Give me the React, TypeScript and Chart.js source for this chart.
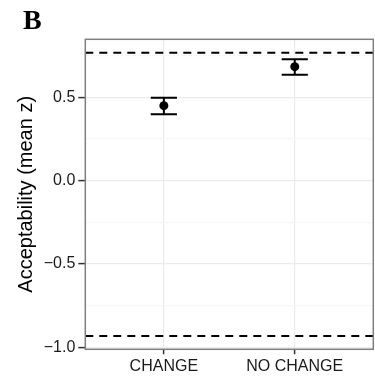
import React, { useEffect, useRef } from "react";
import { Chart, registerables } from "chart.js";

Chart.register(...registerables);

const categories = ["CHANGE", "NO CHANGE"];
const means = [0.45, 0.684];
const lower = [0.398, 0.636];
const upper = [0.498, 0.728];
const referenceLines = [0.768, -0.932];
const yMajorTicks = [-1.0, -0.5, 0.0, 0.5];
const yMinorTicks = [-0.75, -0.25, 0.25, 0.75];
const panelLabel = "B";
const yTitle = "Acceptability (mean z)";

const X_MIN = 0.4;
const X_MAX = 2.6;
const Y_MIN = -1.012;
const Y_MAX = 0.848;
const CAP = 0.1;

const isMinor = (v: number) => yMinorTicks.some((m) => Math.abs(m - v) < 1e-9);

export default function App() {
  const ref = useRef<HTMLCanvasElement | null>(null);

  useEffect(() => {
    if (!ref.current) return;

    const refDatasets = referenceLines.map((r) => ({
      data: [
        { x: X_MIN, y: r },
        { x: X_MAX, y: r },
      ],
      showLine: true,
      borderColor: "#000",
      borderWidth: 2,
      borderDash: [8, 6],
      pointRadius: 0,
      order: 3,
    }));

    const errDatasets: any[] = [];
    categories.forEach((_, i) => {
      const x = i + 1;
      const segs = [
        [
          { x, y: lower[i] },
          { x, y: upper[i] },
        ],
        [
          { x: x - CAP, y: upper[i] },
          { x: x + CAP, y: upper[i] },
        ],
        [
          { x: x - CAP, y: lower[i] },
          { x: x + CAP, y: lower[i] },
        ],
      ];
      segs.forEach((d) =>
        errDatasets.push({
          data: d,
          showLine: true,
          borderColor: "#000",
          borderWidth: 2,
          pointRadius: 0,
          order: 2,
        })
      );
    });

    const pointDataset = {
      data: categories.map((_, i) => ({ x: i + 1, y: means[i] })),
      showLine: false,
      pointRadius: 4.5,
      pointBackgroundColor: "#000",
      pointBorderColor: "#000",
      pointBorderWidth: 0,
      order: 1,
    };

    const frame = {
      id: "frame",
      afterDatasetsDraw(chart: any) {
        const { ctx, chartArea } = chart;
        ctx.save();
        ctx.strokeStyle = "#7f7f7f";
        ctx.lineWidth = 1.5;
        ctx.strokeRect(
          chartArea.left,
          chartArea.top,
          chartArea.right - chartArea.left,
          chartArea.bottom - chartArea.top
        );
        ctx.restore();
      },
      afterDraw(chart: any) {
        const { ctx } = chart;
        ctx.save();
        ctx.fillStyle = "#000";
        ctx.font = 'bold 28px "Liberation Serif"';
        ctx.textBaseline = "alphabetic";
        ctx.textAlign = "left";
        ctx.fillText(panelLabel, 23, 29);
        ctx.restore();
      },
    };

    const chart = new Chart(ref.current, {
      type: "scatter",
      data: { datasets: [...refDatasets, ...errDatasets, pointDataset] as any },
      options: {
        animation: false,
        responsive: false,
        layout: { autoPadding: false, padding: { top: 39.3, right: 1.7, left: 0, bottom: 0 } },
        plugins: {
          legend: { display: false },
          tooltip: { enabled: false },
        },
        scales: {
          x: {
            type: "linear",
            min: X_MIN,
            max: X_MAX,
            afterBuildTicks: (scale: any) => {
              scale.ticks = categories.map((_, i) => ({ value: i + 1 }));
            },
            afterFit: (scale: any) => {
              scale.height = 27.7;
              scale.paddingLeft = 0;
              scale.paddingRight = 0;
            },
            ticks: {
              autoSkip: false,
              maxRotation: 0,
              padding: 3,
              color: "#1a1a1a",
              font: { family: "Liberation Sans", size: 16 },
              callback: (v: any) => categories[Math.round(Number(v)) - 1] ?? "",
            },
            grid: {
              color: "#ebebeb",
              lineWidth: 1.2,
              drawTicks: true,
              tickLength: 5,
              tickColor: "#333",
              tickWidth: 1.5,
            },
            border: { display: false },
          },
          y: {
            type: "linear",
            min: Y_MIN,
            max: Y_MAX,
            afterBuildTicks: (scale: any) => {
              scale.ticks = [...yMinorTicks, ...yMajorTicks]
                .sort((a, b) => a - b)
                .map((v) => ({ value: v }));
            },
            afterFit: (scale: any) => {
              scale.width = 85.3;
            },
            title: {
              display: true,
              text: yTitle,
              color: "#000",
              font: { family: "Liberation Sans", size: 20 },
              padding: { top: 14, bottom: 0 },
            },
            ticks: {
              autoSkip: false,
              padding: 3,
              color: "#1a1a1a",
              font: { family: "Liberation Sans", size: 16 },
              callback: (v: any) => {
                const n = Number(v);
                if (isMinor(n)) return "";
                return n.toFixed(1).replace("-", "\u2212");
              },
            },
            grid: {
              color: (c: any) => (isMinor(c.tick?.value) ? "#f7f7f7" : "#ebebeb"),
              lineWidth: 1.2,
              drawTicks: true,
              tickLength: 7,
              tickColor: (c: any) => (isMinor(c.tick?.value) ? "rgba(0,0,0,0)" : "#333"),
              tickWidth: 1.5,
            },
            border: { display: false },
          },
        },
      } as any,
      plugins: [frame],
    });

    return () => chart.destroy();
  }, []);

  return (
    <div style={{ position: "absolute", left: 0, top: 0, width: 375, height: 377, background: "#fff" }}>
      <canvas ref={ref} width={375} height={377} style={{ display: "block", width: 375, height: 377 }} />
    </div>
  );
}
